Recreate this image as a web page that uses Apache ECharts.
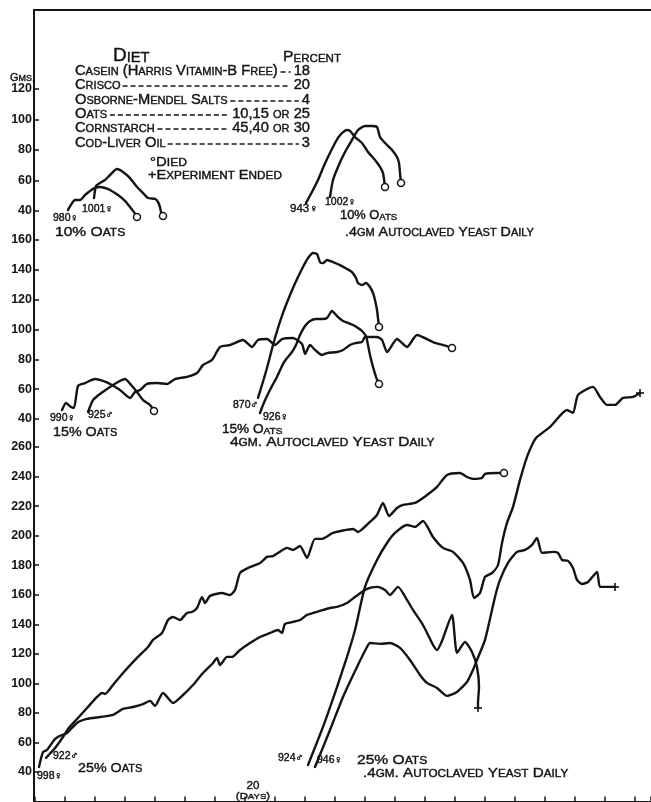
<!DOCTYPE html>
<html>
<head>
<meta charset="utf-8">
<script src="https://cdn.jsdelivr.net/npm/echarts/dist/echarts.min.js"></script>
<style>
  html, body { margin: 0; padding: 0; background: #fff; }
  #chart { width: 651px; height: 802px; }
</style>
</head>
<body>
<div id="chart"></div>
<script>
// Growth of rats on the casein / oats diet, weight in grams against days.
// Upper panel: 10% oats, middle: 15% oats, lower: 25% oats.

// ---- upper panel (10% oats) ----
const rat980Days = [3.3, 3.7, 4.0, 4.5, 5.0, 5.5, 6.0, 6.5, 7.0, 7.5, 8.3, 9.0, 9.5, 9.9, 10.2];
const rat980Gms  = [40.7, 45.2, 47.2, 47.2, 50.5, 53.1, 55.1, 55.7, 55.1, 53.8, 50.5, 46.6, 42.6, 39.3, 36.1];

const rat1001Days = [5.9, 6.1, 6.5, 7.0, 7.5, 8.2, 8.8, 9.5, 10.2, 10.8, 11.3, 12.0, 12.3, 12.5, 12.6, 12.8];
const rat1001Gms  = [48.5, 56.4, 58.4, 60.3, 63.6, 67.5, 65.6, 61.6, 55.7, 51.8, 48.5, 47.9, 45.9, 42.6, 39.3, 36.7];

const rat943Days = [27.1, 27.8, 28.3, 28.8, 29.3, 29.8, 30.3, 30.7, 31.2, 31.5, 32.0, 32.7, 33.3, 34.0, 34.5, 34.8, 34.9, 35.0];
const rat943Gms  = [45.2, 53.8, 60.3, 68.2, 75.4, 82.0, 87.9, 91.1, 93.1, 92.5, 88.5, 84.6, 78.7, 73.4, 68.9, 64.9, 61.0, 55.7];

const rat1002Days = [29.5, 29.8, 30.3, 31.0, 31.7, 32.3, 33.0, 33.7, 34.2, 34.5, 35.0, 35.7, 36.2, 36.4, 36.5, 36.6];
const rat1002Gms  = [49.2, 60.3, 68.9, 78.7, 86.6, 93.1, 95.7, 95.7, 95.1, 88.5, 84.6, 80.0, 75.4, 71.5, 64.9, 58.4];

// ---- middle panel (15% oats) ----
const rat990Days = [2.7, 3.1, 3.6, 3.9, 4.3, 5.0, 6.0, 6.8, 7.7, 8.5, 9.5, 10.0, 10.5, 11.2, 12.2, 13.2, 14.0, 15.2, 16.2,
  16.8, 17.7, 18.5, 19.5, 20.8, 21.7, 22.3, 23.2, 24.0, 24.7, 25.8, 26.7, 27.0, 27.5, 28.0, 28.7, 29.2, 30.2, 30.8,
  31.5, 32.0, 32.7, 33.0, 34.2, 34.7, 35.2, 36.2, 37.2, 38.2, 39.8, 41.2, 41.7];
const rat990Gms  = [46.0, 50.7, 48.0, 47.4, 62.1, 64.1, 66.8, 65.5, 62.8, 59.4, 54.1, 58.1, 59.4, 63.5, 64.1, 63.5, 66.8, 68.2, 70.8,
  76.2, 79.6, 88.3, 89.6, 93.0, 88.3, 93.0, 93.6, 89.6, 93.6, 94.3, 90.3, 83.6, 89.6, 86.3, 82.9, 84.2, 84.9, 86.3,
  89.6, 90.9, 91.6, 95.0, 95.0, 93.0, 84.9, 93.6, 88.3, 96.3, 91.6, 88.9, 87.6];

const rat925Days = [5.3, 5.8, 6.5, 7.5, 8.3, 9.0, 9.7, 10.2, 10.8, 11.5, 11.9];
const rat925Gms  = [44.7, 52.7, 56.8, 61.5, 64.8, 66.8, 62.1, 58.1, 52.7, 49.4, 45.4];

const rat870Days = [22.3, 22.7, 23.2, 23.8, 24.3, 24.8, 25.3, 25.8, 26.3, 26.8, 27.3, 27.8, 28.2, 28.5, 28.8, 29.2, 29.8,
  30.5, 31.2, 31.7, 32.1, 32.3, 32.7, 33.1, 33.5, 33.8, 34.0, 34.2, 34.3, 34.4];
const rat870Gms  = [54.1, 62.8, 74.2, 89.6, 101.0, 111.1, 119.8, 127.8, 135.2, 141.9, 147.9, 151.3, 150.6, 145.2, 144.5, 146.6, 145.2,
  143.2, 140.6, 138.5, 134.5, 131.2, 129.8, 131.2, 128.5, 124.5, 119.8, 113.1, 107.7, 101.7];

const rat926Days = [22.5, 22.8, 23.2, 23.7, 24.2, 24.8, 25.2, 25.7, 26.1, 26.5, 27.0, 27.5, 28.1, 28.7, 29.2, 29.7, 30.2,
  30.8, 31.3, 31.8, 32.3, 32.7, 33.1, 33.3, 33.5, 33.8, 34.1, 34.4];
const rat926Gms  = [44.0, 49.4, 55.4, 62.1, 68.2, 76.9, 80.9, 84.9, 89.6, 96.3, 102.3, 105.7, 107.0, 107.0, 107.7, 112.4, 109.0,
  105.7, 104.4, 103.0, 101.0, 99.0, 95.6, 89.6, 82.9, 74.9, 68.2, 63.5];

// ---- lower panel (25% oats) ----
const rat998Days = [0.4, 0.8, 1.2, 1.7, 2.0, 2.5, 3.2, 4.2, 5.2, 6.5, 7.8, 8.8, 9.8, 10.8, 11.5, 12.0, 12.8, 13.8, 14.8,
  15.8, 16.8, 17.8, 18.2, 18.5, 19.2, 19.7, 20.5, 21.5, 22.5, 23.5, 24.3, 24.7, 25.0, 25.8, 26.5, 27.2, 28.5, 29.5,
  30.2, 31.2, 32.0, 33.2, 34.2, 35.0, 35.5, 36.3, 37.2, 37.8, 38.8, 39.8, 40.2, 40.7, 41.7, 42.2, 43.0, 43.7, 44.2,
  44.4, 44.3, 44.3];
const rat998Gms  = [43.4, 53.5, 54.9, 59.6, 62.3, 64.4, 66.4, 73.2, 75.9, 77.2, 78.6, 82.7, 84.0, 86.0, 88.1, 84.7, 93.5, 86.7, 92.1,
  98.9, 107.0, 113.8, 117.2, 112.4, 117.9, 117.9, 122.6, 127.3, 131.4, 134.1, 136.1, 134.1, 140.2, 141.6, 142.9, 146.3, 149.0, 151.0,
  151.7, 154.4, 158.5, 163.9, 165.3, 163.2, 159.8, 165.3, 156.5, 149.7, 139.5, 126.0, 122.6, 128.7, 146.3, 120.6, 128.0, 121.2, 111.1,
  97.5, 86.7, 83.3];

const rat922Days = [1.1, 2.0, 2.8, 3.3, 4.2, 5.2, 6.2, 6.7, 7.0, 7.8, 8.8, 10.2, 11.3, 11.8, 12.7, 13.3, 13.8, 14.5, 15.2,
  15.7, 16.2, 16.7, 17.0, 17.5, 18.7, 19.5, 20.0, 20.5, 21.3, 22.5, 23.2, 23.8, 24.3, 25.2, 25.8, 26.5, 27.2, 28.0,
  28.7, 29.8, 31.8, 32.3, 33.5, 34.2, 34.8, 35.4, 36.2, 36.8, 38.0, 39.2, 40.2, 41.2, 42.5, 43.2, 43.8, 44.7, 45.0,
  46.2, 46.9];
const rat922Gms  = [49.5, 56.2, 63.7, 69.1, 75.9, 83.3, 90.8, 93.5, 92.8, 98.9, 107.0, 117.2, 124.6, 129.4, 134.1, 142.9, 144.9, 142.9, 147.7,
  148.3, 151.0, 158.5, 154.4, 159.2, 161.2, 159.8, 163.2, 174.7, 178.1, 181.5, 185.6, 186.2, 188.3, 191.7, 190.3, 193.0, 184.9, 197.8,
  197.8, 201.8, 204.5, 202.5, 209.3, 214.0, 222.1, 213.3, 218.7, 220.8, 222.1, 227.5, 233.0, 241.1, 242.4, 239.7, 238.4, 239.1, 241.8,
  242.4, 242.4];

const rat924Days = [27.3, 28.8, 30.2, 31.2, 32.0, 33.0, 34.2, 35.2, 36.0, 37.2, 38.0, 38.8, 39.8, 40.8, 41.8, 42.8, 43.5, 43.9,
  44.5, 45.0, 45.7, 46.3, 46.7, 47.2, 47.8, 48.5, 49.2, 49.8, 50.2, 51.5, 53.2, 53.8, 54.3, 55.8, 56.5, 57.2, 58.0,
  58.8, 59.8, 60.5];
const rat924Gms  = [44.7, 70.5, 97.5, 117.9, 136.1, 165.3, 183.5, 195.0, 201.8, 207.2, 205.9, 209.9, 199.1, 191.7, 189.0, 181.5, 170.0, 157.8,
  161.2, 172.0, 174.7, 180.1, 195.0, 208.6, 219.4, 237.7, 253.3, 262.7, 266.8, 273.6, 285.1, 283.1, 295.2, 300.7, 293.9, 288.5, 288.5,
  293.2, 293.9, 296.6];

const rat946Days = [28.0, 29.5, 30.8, 32.2, 33.2, 33.5, 34.5, 35.5, 36.5, 37.5, 38.5, 39.2, 40.2, 41.2, 42.2, 43.2, 43.8, 44.2,
  45.0, 46.0, 46.5, 47.3, 48.2, 49.0, 49.7, 50.2, 50.7, 51.8, 52.3, 52.7, 53.3, 53.8, 54.2, 54.7, 55.3, 56.2, 56.5,
  57.3, 58.0];
const rat946Gms  = [43.4, 68.4, 90.8, 111.1, 124.6, 127.3, 126.7, 127.3, 124.0, 115.8, 105.7, 100.3, 96.9, 91.5, 94.2, 100.9, 109.1, 115.8,
  129.4, 158.5, 170.0, 181.5, 189.0, 190.3, 193.7, 198.4, 188.3, 189.0, 188.3, 183.5, 182.9, 178.1, 170.0, 167.3, 168.6, 175.4, 165.3,
  165.3, 165.3];

// ---- axis ticks ----
const upperTicks  = [40, 60, 80, 100, 120];
const middleTicks = [40, 60, 80, 100, 120, 140, 160];
const lowerTicks  = [40, 60, 80, 100, 120, 140, 160, 180, 200, 220, 240, 260];

// ---- diet table ----
const dietItems  = ['Casein (Harris Vitamin-B Free)', 'Crisco', 'Osborne-Mendel Salts', 'Oats', 'Cornstarch', 'Cod-Liver Oil'];
const dietShares = ['18', '20', '4', '10,15 or 25', '45,40 or 30', '3'];

// each rat: panel index, series arrays, and how its record ended
const rats = [
  { id: '980', panel: 0, days: rat980Days, gms: rat980Gms, end: 'died' },
  { id: '1001', panel: 0, days: rat1001Days, gms: rat1001Gms, end: 'died' },
  { id: '943', panel: 0, days: rat943Days, gms: rat943Gms, end: 'died' },
  { id: '1002', panel: 0, days: rat1002Days, gms: rat1002Gms, end: 'died' },
  { id: '990', panel: 1, days: rat990Days, gms: rat990Gms, end: 'died' },
  { id: '925', panel: 1, days: rat925Days, gms: rat925Gms, end: 'died' },
  { id: '870', panel: 1, days: rat870Days, gms: rat870Gms, end: 'died' },
  { id: '926', panel: 1, days: rat926Days, gms: rat926Gms, end: 'died' },
  { id: '998', panel: 2, days: rat998Days, gms: rat998Gms, end: 'ended' },
  { id: '922', panel: 2, days: rat922Days, gms: rat922Gms, end: 'died' },
  { id: '924', panel: 2, days: rat924Days, gms: rat924Gms, end: 'ended' },
  { id: '946', panel: 2, days: rat946Days, gms: rat946Gms, end: 'ended' }
];

const INK = '#141414';
const FONT = "'Liberation Sans', 'DejaVu Sans', sans-serif";
const AXIS_LEFT = 35;
const PLOT_W = 616;
const DAY_MAX = 61.6;

const panelGrids = [
  { top: 89, height: 122, min: 40, max: 120, ticks: upperTicks },
  { top: 240, height: 179, min: 40, max: 160, ticks: middleTicks },
  { top: 447, height: 354.5, min: 20, max: 260, ticks: lowerTicks }
];

// ---- small-caps lettering helpers ----
function capsRich(str) {
  let out = '', run = '', kind = null;
  for (const ch of str) {
    const k = /[a-z]/.test(ch) ? 's' : 'b';
    if (k !== kind && run) { out += '{' + kind + '|' + run + '}'; run = ''; }
    kind = k;
    run += k === 's' ? ch.toUpperCase() : ch;
  }
  if (run) out += '{' + kind + '|' + run + '}';
  return out;
}
const measureCtx = document.createElement('canvas').getContext('2d');
function capsWidth(str, big, small) {
  let w = 0;
  for (const ch of str) {
    const s = /[a-z]/.test(ch);
    measureCtx.font = (s ? small : big) + 'px ' + FONT;
    w += measureCtx.measureText(s ? ch.toUpperCase() : ch).width;
  }
  return w;
}
function lettering(str, x, y, big, small, align, sx) {
  const pen = { fill: INK, stroke: INK, lineWidth: 0.4, fontFamily: FONT, verticalAlign: 'bottom' };
  return {
    type: 'text', x: x, y: y, scaleX: sx || 1, silent: true, z: 10,
    style: {
      text: capsRich(str), align: align || 'left', verticalAlign: 'middle', fill: INK,
      rich: {
        b: Object.assign({ fontSize: big }, pen),
        s: Object.assign({ fontSize: small }, pen)
      }
    }
  };
}

// ---- graphic elements: frame, diet table and panel notes ----
const graphics = [];
graphics.push({
  type: 'polyline', silent: true, z: 5,
  shape: { points: [[34, 802], [34, 10], [651, 10]] },
  style: { stroke: INK, lineWidth: 2, fill: null }
});

graphics.push(lettering('Diet', 113, 56, 18, 14, 'left', 1.05));
graphics.push(lettering('Percent', 283, 57, 15, 11, 'left', 1.05));
const rowY = [71, 85, 100, 114, 128, 143];
const ROW_BIG = 14, ROW_SMALL = 10.5, ROW_SX = 1.05;
dietItems.forEach((name, i) => {
  const y = rowY[i];
  const share = dietShares[i];
  graphics.push(lettering(name, 75, y, ROW_BIG, ROW_SMALL, 'left', ROW_SX));
  graphics.push(lettering(share, 310, y, ROW_BIG, ROW_SMALL, 'right', ROW_SX));
  const x0 = 75 + capsWidth(name, ROW_BIG, ROW_SMALL) * ROW_SX + 2;
  const x1 = 310 - capsWidth(share, ROW_BIG, ROW_SMALL) * ROW_SX - 3;
  graphics.push({
    type: 'line', silent: true, z: 10,
    shape: { x1: x0, y1: y + 1, x2: x1, y2: y + 1 },
    style: { stroke: INK, lineWidth: 1.4, lineDash: [5, 3] }
  });
});
graphics.push(lettering('°Died', 150, 162, 13, 10.5, 'left', 1.15));
graphics.push(lettering('+Experiment Ended', 148, 175, 13, 10.5, 'left', 1.12));
graphics.push(lettering('Gms.', 10, 78, 11, 9, 'left', 1));

// text, left x, centre y, capital size, small-letter size, horizontal stretch
const notes = [
  ['980♀', 53, 218, 10.5, 8.5, 1], ['1001♀', 82, 209, 10.5, 8.5, 1], ['10% Oats', 55, 232, 13, 10, 1.2],
  ['943♀', 290, 209, 11, 9, 1.05], ['1002♀', 325, 202, 10.5, 8.5, 1], ['10% Oats', 340, 216, 12, 9, 1.07],
  ['.4gm Autoclaved Yeast Daily', 345, 232, 13, 10, 1.1],
  ['990♀', 50, 418, 10.5, 8.5, 1], ['925♂', 88, 415, 10.5, 8.5, 1], ['15% Oats', 53, 432, 13, 10, 1.1],
  ['870♂', 233, 405, 10.5, 8.5, 1], ['926♀', 263, 417, 10.5, 8.5, 1], ['15% Oats', 222, 430, 12, 9, 1.13],
  ['4gm. Autoclaved Yeast Daily', 230, 442, 13, 10, 1.19],
  ['998♀', 37, 776, 10.5, 8.5, 1], ['922♂', 53, 756, 10.5, 8.5, 1], ['25% Oats', 78, 768, 13, 10, 1.1],
  ['924♂', 278, 758, 10.5, 8.5, 1], ['946♀', 317, 760, 10.5, 8.5, 1], ['25% Oats', 357, 760, 13, 10, 1.2],
  ['.4gm. Autoclaved Yeast Daily', 363, 773, 13, 10, 1.17]
];
notes.forEach(n => graphics.push(lettering(n[0], n[1], n[2], n[3], n[4], 'left', n[5])));
graphics.push(lettering('20', 253, 786, 10.5, 8.5, 'center', 1.1));
graphics.push(lettering('(Days)', 253, 796, 9.5, 8, 'center', 1.2));

// ---- grids and axes ----
const grid = panelGrids.map(p => ({ left: AXIS_LEFT, width: PLOT_W, top: p.top, height: p.height }));
const xAxis = panelGrids.map((p, i) => ({
  gridIndex: i, type: 'value', min: 0, max: DAY_MAX, interval: 3,
  show: i === 2,
  axisLine: { show: i === 2, lineStyle: { color: INK, width: 2 } },
  axisTick: { show: true, inside: true, length: 5, lineStyle: { color: INK, width: 1.5 } },
  axisLabel: { show: false },
  splitLine: { show: false }
}));
const yAxis = panelGrids.map((p, i) => ({
  gridIndex: i, type: 'value', min: p.min, max: p.max, interval: 20,
  axisLine: { show: false },
  axisTick: { show: true, inside: true, length: 4, lineStyle: { color: INK, width: 1.5 } },
  splitLine: { show: false },
  axisLabel: {
    margin: 3, color: INK, fontSize: 12.5, fontWeight: 'bold', fontFamily: FONT,
    formatter: v => (p.ticks.indexOf(v) >= 0 ? String(v) : '')
  }
}));

// ---- series: one growth line per rat plus end markers ----
const series = rats.map(r => ({
  type: 'line', name: r.id, xAxisIndex: r.panel, yAxisIndex: r.panel,
  data: r.days.map((d, i) => [d, r.gms[i]]),
  showSymbol: false, smooth: 0.2, clip: false, silent: true, z: 2,
  lineStyle: { color: INK, width: 2.4, cap: 'round', join: 'round' }
}));
const crossPath = 'path://M-1,-4 L1,-4 L1,-1 L4,-1 L4,1 L1,1 L1,4 L-1,4 L-1,1 L-4,1 L-4,-1 L-1,-1 Z';
[0, 1, 2].forEach(p => {
  const lastPoint = r => [r.days[r.days.length - 1], r.gms[r.gms.length - 1]];
  series.push({
    type: 'scatter', xAxisIndex: p, yAxisIndex: p, clip: false, silent: true, z: 4,
    data: rats.filter(r => r.panel === p && r.end === 'died').map(lastPoint),
    symbol: 'circle', symbolSize: 7,
    itemStyle: { color: '#ffffff', opacity: 1, borderColor: INK, borderWidth: 1.5 }
  });
  series.push({
    type: 'scatter', xAxisIndex: p, yAxisIndex: p, clip: false, silent: true, z: 4,
    data: rats.filter(r => r.panel === p && r.end === 'ended').map(lastPoint),
    symbol: crossPath, symbolSize: 8,
    itemStyle: { color: INK }
  });
});

const chart = echarts.init(document.getElementById('chart'), null, { renderer: 'canvas' });
chart.setOption({
  animation: false,
  backgroundColor: '#fff',
  grid: grid,
  xAxis: xAxis,
  yAxis: yAxis,
  series: series,
  graphic: graphics
});
</script>
</body>
</html>
